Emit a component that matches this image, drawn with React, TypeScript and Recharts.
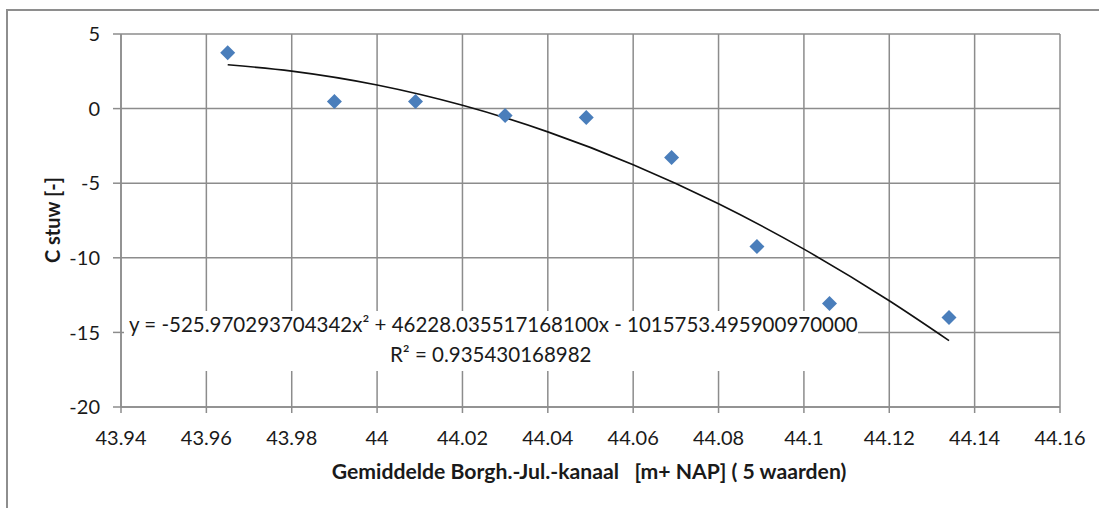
import { ComposedChart, Scatter, Line, XAxis, YAxis, CartesianGrid } from "recharts";

const X_TICKS = [43.94, 43.96, 43.98, 44, 44.02, 44.04, 44.06, 44.08, 44.1, 44.12, 44.14, 44.16];
const Y_TICKS = [-20, -15, -10, -5, 0, 5];

const MEASURED_X = [43.965, 43.99, 44.009, 44.03, 44.049, 44.069, 44.089, 44.106, 44.134];
const MEASURED_Y = [3.75, 0.47, 0.47, -0.47, -0.6, -3.28, -9.25, -13.07, -14.0];

// polynomial trendline, values taken from the equation shown in the chart
const TREND_X = [43.965, 43.98, 44.0, 44.02, 44.04, 44.06, 44.08, 44.1, 44.12, 44.134];
const TREND_Y = [2.94, 2.51, 1.58, 0.22, -1.56, -3.76, -6.38, -9.42, -12.88, -15.55];

const EQUATION = "y = -525.970293704342x² + 46228.035517168100x - 1015753.495900970000";
const R_SQUARED = "R² = 0.935430168982";
const X_LABEL = "Gemiddelde Borgh.-Jul.-kanaal   [m+ NAP] ( 5 waarden)";
const Y_LABEL = "C stuw [-]";

const points = MEASURED_X.map((x, i) => ({ x, y: MEASURED_Y[i] }));
const trend = TREND_X.map((x, i) => ({ x, y: TREND_Y[i] }));

const FONT = "Lato, 'Liberation Sans', sans-serif";
const GRID = "#8c8c8c";

function Diamond(props: any) {
  const { cx, cy } = props;
  const r = 7.5;
  return (
    <polygon
      points={`${cx},${cy - r} ${cx + r},${cy} ${cx},${cy + r} ${cx - r},${cy}`}
      fill="#4a7ebb"
    />
  );
}

const fmt = (v: number) => String(Number(v.toFixed(2)));

export default function App() {
  return (
    <div style={{ position: "absolute", left: 0, top: 0, width: 1099, height: 508, overflow: "hidden", background: "#fff" }}>
      <div
        style={{
          position: "absolute",
          left: 6,
          top: 9,
          width: 1200,
          height: 700,
          border: "2px solid #8e8e8e",
        }}
      />
      <div style={{ position: "absolute", left: 0, top: 0 }}>
        <ComposedChart width={1099} height={508} margin={{ top: 34, right: 39, bottom: 61, left: 61 }}>
          <CartesianGrid stroke={GRID} strokeWidth={1.5} />
          <XAxis
            type="number"
            dataKey="x"
            domain={[43.94, 44.16]}
            ticks={X_TICKS}
            tickFormatter={fmt}
            height={40}
            tickSize={6}
            tickMargin={18}
            stroke={GRID}
            strokeWidth={1.5}
            tick={{ fill: "#1a1a1a", fontSize: 20, fontFamily: FONT }}
            allowDataOverflow
          />
          <YAxis
            type="number"
            domain={[-20, 5]}
            ticks={Y_TICKS}
            width={60}
            tickSize={8}
            tickMargin={13}
            stroke={GRID}
            strokeWidth={1.5}
            tick={{ fill: "#1a1a1a", fontSize: 20, fontFamily: FONT }}
            allowDataOverflow
          />
          <Line
            data={trend}
            dataKey="y"
            type="monotone"
            stroke="#111"
            strokeWidth={1.6}
            dot={false}
            activeDot={false}
            isAnimationActive={false}
          />
          <Scatter data={points} dataKey="y" shape={Diamond} isAnimationActive={false} />
        </ComposedChart>
      </div>
      <svg
        width={1099}
        height={508}
        style={{ position: "absolute", left: 0, top: 0, pointerEvents: "none", fontFamily: FONT }}
      >
        <rect x={124} y={311} width={734} height={60} fill="#fff" />
        <text x={129} y={332} fontSize={20.5} fill="#1a1a1a">
          {EQUATION}
        </text>
        <text x={390} y={362} fontSize={20.5} fill="#1a1a1a">
          {R_SQUARED}
        </text>
        <text x={589} y={479} fontSize={21.2} fontWeight="bold" textAnchor="middle" fill="#1a1a1a" style={{ whiteSpace: "pre" }}>
          {X_LABEL}
        </text>
        <text
          x={0}
          y={0}
          fontSize={20}
          fontWeight="bold"
          textAnchor="middle"
          fill="#1a1a1a"
          transform="translate(60, 220) rotate(-90)"
        >
          {Y_LABEL}
        </text>
      </svg>
    </div>
  );
}
